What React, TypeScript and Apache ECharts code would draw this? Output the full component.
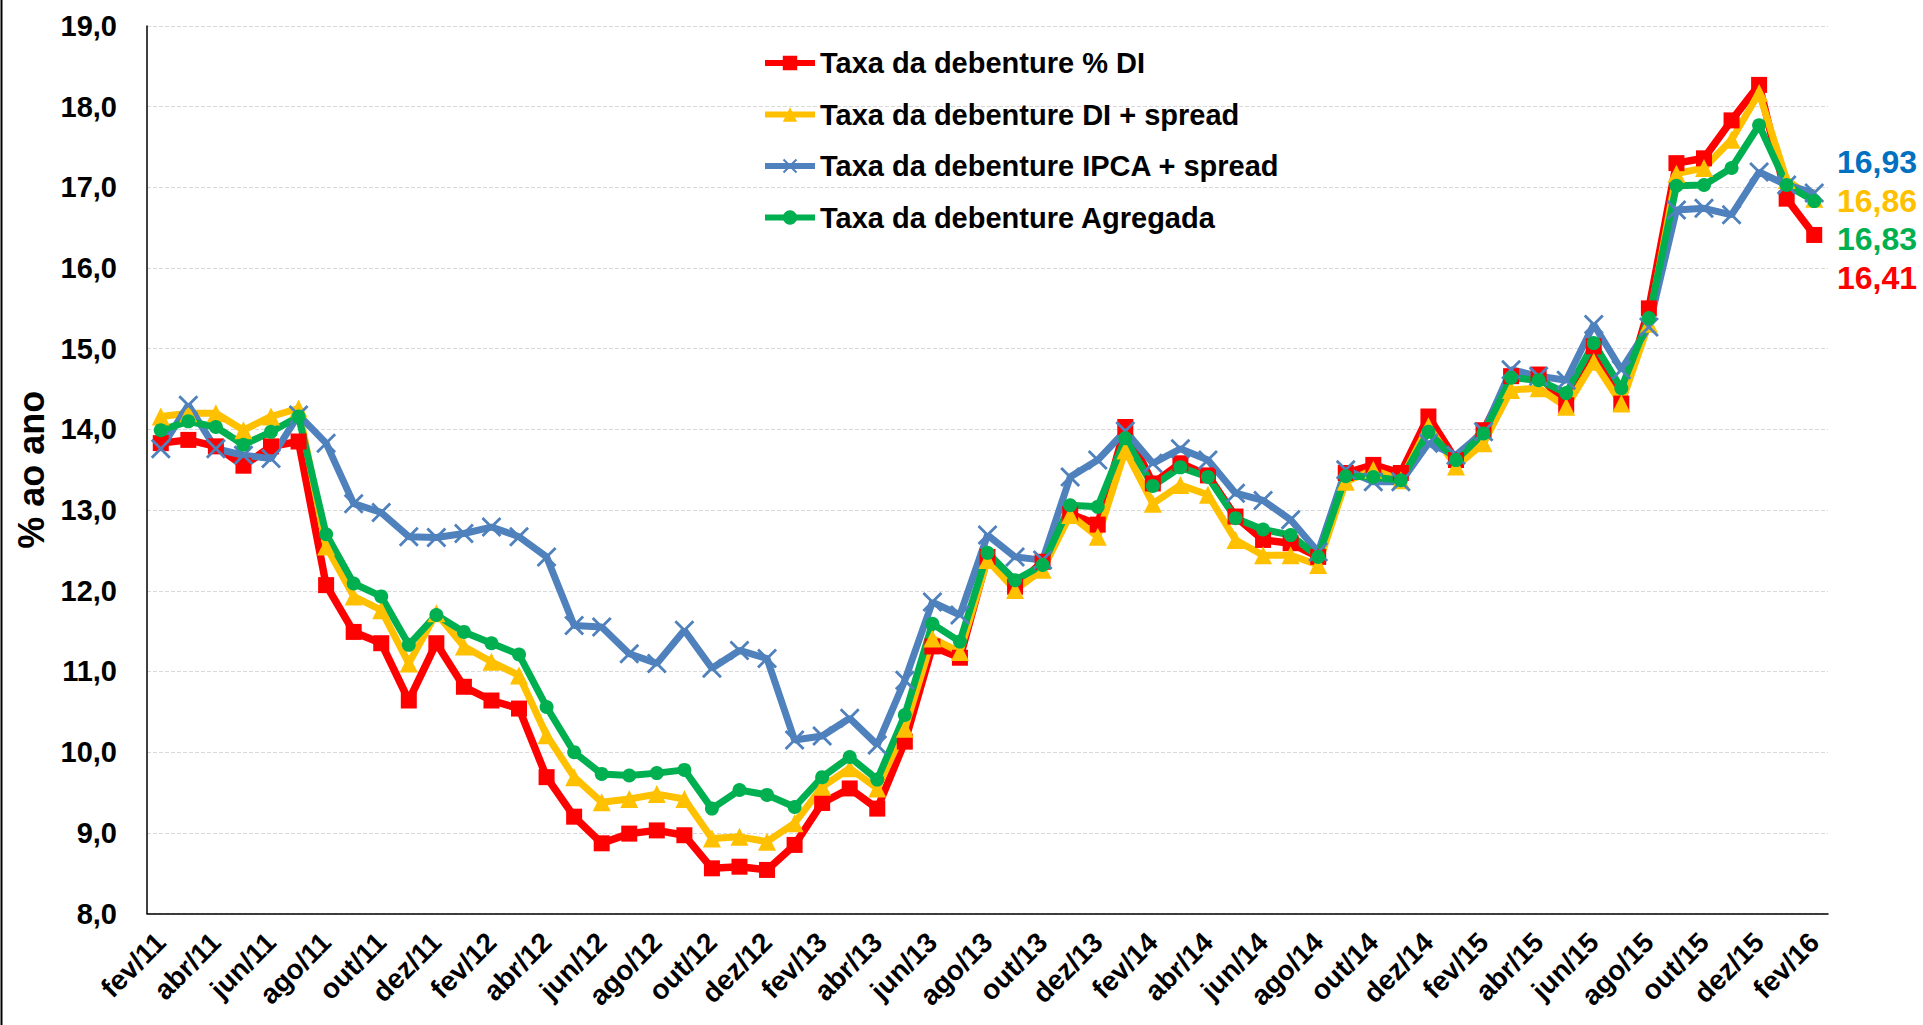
import React, { useEffect, useRef } from "react";
import * as echarts from "echarts";

const months = [
  "fev/11","mar/11","abr/11","mai/11","jun/11","jul/11","ago/11","set/11","out/11","nov/11","dez/11",
  "jan/12","fev/12","mar/12","abr/12","mai/12","jun/12","jul/12","ago/12","set/12","out/12","nov/12","dez/12",
  "jan/13","fev/13","mar/13","abr/13","mai/13","jun/13","jul/13","ago/13","set/13","out/13","nov/13","dez/13",
  "jan/14","fev/14","mar/14","abr/14","mai/14","jun/14","jul/14","ago/14","set/14","out/14","nov/14","dez/14",
  "jan/15","fev/15","mar/15","abr/15","mai/15","jun/15","jul/15","ago/15","set/15","out/15","nov/15","dez/15",
  "jan/16","fev/16",
];

const taxaDI = [
  13.83, 13.87, 13.79, 13.55, 13.79, 13.85, 12.07, 11.49, 11.35, 10.64, 11.35,
  10.81, 10.64, 10.54, 9.69, 9.2, 8.87, 8.99, 9.03, 8.97, 8.56, 8.58, 8.54,
  8.85, 9.37, 9.55, 9.3, 10.13, 11.31, 11.17, 12.42, 12.05, 12.36, 12.95, 12.82,
  14.03, 13.33, 13.58, 13.43, 12.92, 12.63, 12.59, 12.42, 13.46, 13.56, 13.46, 14.16,
  13.62, 13.99, 14.66, 14.68, 14.3, 15.03, 14.32, 15.5, 17.3, 17.36, 17.83, 18.27,
  16.86, 16.41,
];

const taxaDISpread = [
  14.16, 14.2, 14.2, 13.99, 14.16, 14.26, 12.55, 11.93, 11.76, 11.1, 11.72,
  11.31, 11.12, 10.95, 10.21, 9.69, 9.38, 9.42, 9.48, 9.42, 8.93, 8.95, 8.89,
  9.12, 9.57, 9.8, 9.55, 10.29, 11.41, 11.24, 12.38, 12.01, 12.26, 12.94, 12.67,
  13.74, 13.08, 13.31, 13.19, 12.63, 12.44, 12.44, 12.32, 13.35, 13.5, 13.37, 14.04,
  13.54, 13.83, 14.49, 14.51, 14.28, 14.84, 14.32, 15.31, 17.17, 17.24, 17.59, 18.17,
  17.09, 16.86,
];

const taxaIPCA = [
  13.76, 14.3, 13.76, 13.68, 13.64, 14.18, 13.83, 13.08, 12.97, 12.67, 12.66,
  12.71, 12.79, 12.67, 12.42, 11.57, 11.55, 11.22, 11.1, 11.51, 11.04, 11.26, 11.16,
  10.15, 10.2, 10.42, 10.09, 10.89, 11.86, 11.7, 12.69, 12.42, 12.38, 13.41, 13.62,
  13.98, 13.58, 13.76, 13.62, 13.21, 13.12, 12.88, 12.48, 13.5, 13.35, 13.35, 13.83,
  13.68, 13.97, 14.74, 14.66, 14.61, 15.3, 14.74, 15.27, 16.72, 16.74, 16.66, 17.19,
  17.03, 16.93,
];

const taxaAgregada = [
  13.99, 14.1, 14.03, 13.81, 13.97, 14.16, 12.7, 12.09, 11.93, 11.33, 11.7,
  11.49, 11.35, 11.21, 10.56, 10.0, 9.73, 9.71, 9.74, 9.78, 9.3, 9.53, 9.47,
  9.32, 9.69, 9.94, 9.66, 10.46, 11.59, 11.37, 12.47, 12.13, 12.32, 13.06, 13.04,
  13.89, 13.3, 13.53, 13.41, 12.9, 12.76, 12.69, 12.42, 13.42, 13.41, 13.37, 13.97,
  13.62, 13.95, 14.64, 14.61, 14.45, 15.07, 14.51, 15.38, 17.02, 17.03, 17.24, 17.77,
  17.03, 16.83,
];

const seriesNames = [
  "Taxa da debenture % DI",
  "Taxa da debenture DI + spread",
  "Taxa da debenture IPCA + spread",
  "Taxa da debenture Agregada",
];

const endLabels = ["16,93", "16,86", "16,83", "16,41"];

const FONT = "'Liberation Sans', Arial, Helvetica, sans-serif";
const X_SYMBOL =
  "path://M1,0 L5,4 L9,0 L10,1 L6,5 L10,9 L9,10 L5,6 L1,10 L0,9 L4,5 L0,1 Z";

export default function App() {
  const ref = useRef<HTMLDivElement>(null);

  useEffect(() => {
    if (!ref.current) return;
    const chart = echarts.init(ref.current, null, { renderer: "svg" });

    const mk = (
      name: string,
      data: number[],
      color: string,
      symbol: string,
      symbolSize: number,
      width: number
    ) => ({
      name,
      type: "line",
      data,
      symbol,
      symbolSize,
      showAllSymbol: true,
      lineStyle: { color, width },
      itemStyle: { color },
      emphasis: { disabled: true },
    });

    const option = {
      animation: false,
      textStyle: { fontFamily: FONT },
      grid: { left: 147, right: 95, top: 26, bottom: 111.5, containLabel: false },
      legend: {
        orient: "vertical",
        left: 757,
        top: 43,
        itemWidth: 50,
        itemHeight: 18,
        itemGap: 21.5,
        lineStyle: { width: 6 },
        data: seriesNames,
        textStyle: {
          fontSize: 29,
          fontWeight: "bold",
          color: "#000",
          fontFamily: FONT,
          lineHeight: 30,
        },
      },
      xAxis: {
        type: "category",
        data: months,
        boundaryGap: true,
        axisLine: { lineStyle: { color: "#000", width: 1.5 } },
        axisTick: { show: false },
        axisLabel: {
          interval: 1,
          rotate: 45,
          fontSize: 28,
          fontWeight: "bold",
          color: "#000",
          fontFamily: FONT,
          margin: 24,
        },
      },
      yAxis: {
        type: "value",
        min: 8,
        max: 19,
        interval: 1,
        axisLine: { show: true, lineStyle: { color: "#000", width: 1.5 } },
        axisTick: { show: false },
        axisLabel: {
          formatter: (v: number) => v.toFixed(1).replace(".", ","),
          fontSize: 29,
          fontWeight: "bold",
          color: "#000",
          fontFamily: FONT,
          margin: 30,
        },
        splitLine: { lineStyle: { color: "#d9d9d9", type: "dashed", width: 1 } },
        name: "% ao ano",
        nameLocation: "middle",
        nameGap: 98,
        nameTextStyle: { fontSize: 36, fontWeight: "bold", color: "#000", fontFamily: FONT },
      },
      series: [
        mk(seriesNames[0], taxaDI, "#FF0000", "rect", 16, 7.5),
        mk(seriesNames[1], taxaDISpread, "#FFC000", "triangle", 18, 7),
        mk(seriesNames[2], taxaIPCA, "#4F81BD", X_SYMBOL, 20, 7),
        mk(seriesNames[3], taxaAgregada, "#00B050", "circle", 14, 7),
      ],
      graphic: [
        {
          type: "line",
          shape: { x1: 1.5, y1: 0, x2: 1.5, y2: 1025 },
          style: { stroke: "#000", lineWidth: 2 },
        },
        ...endLabels.map((t, i) => ({
          type: "text",
          right: 6,
          top: 164 + i * 38.5 - 18,
          style: {
            text: t,
            fill: ["#0070C0", "#FFC000", "#00B050", "#FF0000"][i],
            font: `bold 32px ${FONT}`,
          },
        })),
      ],
    };

    chart.setOption(option as any);
    return () => chart.dispose();
  }, []);

  return (
    <div
      ref={ref}
      style={{ position: "fixed", left: 0, top: 0, width: "100vw", height: "100vh", background: "#fff" }}
    />
  );
}
